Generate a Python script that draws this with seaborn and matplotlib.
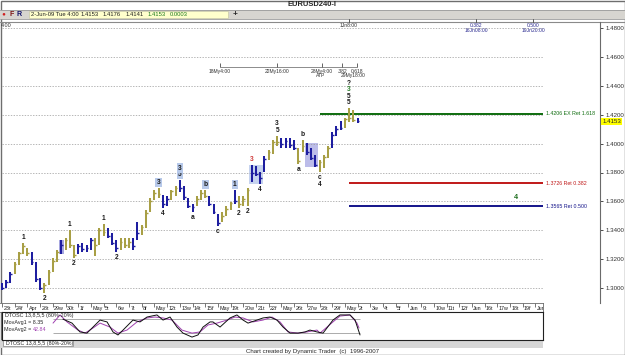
import numpy as np
import pandas as pd
import matplotlib
matplotlib.use("Agg")
import matplotlib.pyplot as plt
import matplotlib.transforms as mtrans
from matplotlib.patches import Rectangle, Circle
import seaborn as sns

sns.set_style("white")
plt.rcParams['font.family'] = ['Liberation Sans', 'DejaVu Sans']

# ---------------- data ----------------
# 8-hour bars, EURUSD, 23-Apr-09 .. 2-Jun-09
highs = [1.3035, 1.3056, 1.3111, 1.3181, 1.3250, 1.3312, 1.3278, 1.3250, 1.3181, 1.3070,
         1.3035, 1.3125, 1.3208, 1.3264, 1.3333, 1.3347, 1.3402, 1.3298, 1.3305, 1.3312,
         1.3298, 1.3347, 1.3347, 1.3416, 1.3444, 1.3416, 1.3381, 1.3333, 1.3347, 1.3347,
         1.3347, 1.3347, 1.3457, 1.3437, 1.3540, 1.3624, 1.3679, 1.3693, 1.3644, 1.3637,
         1.3679, 1.3707, 1.3748, 1.3707, 1.3624, 1.3582, 1.3637, 1.3679, 1.3679, 1.3637,
         1.3582, 1.3513, 1.3527, 1.3568, 1.3596, 1.3679, 1.3637, 1.3637, 1.3693, 1.3852,
         1.3845, 1.3803, 1.3914, 1.3956, 1.4025, 1.4053, 1.4039, 1.4039, 1.4039, 1.4025,
         1.3970, 1.4025, 1.4004, 1.3970, 1.3921, 1.3887, 1.3921, 1.3983, 1.4080, 1.4122,
         1.4156, 1.4177, 1.4246, 1.4233, 1.4176]
lows = [1.2987, 1.3001, 1.3035, 1.3098, 1.3160, 1.3236, 1.3222, 1.3160, 1.3042, 1.2987,
        1.2966, 1.3021, 1.3111, 1.3181, 1.3236, 1.3264, 1.3278, 1.3208, 1.3236, 1.3250,
        1.3250, 1.3264, 1.3222, 1.3298, 1.3361, 1.3347, 1.3298, 1.3250, 1.3264, 1.3278,
        1.3278, 1.3264, 1.3333, 1.3367, 1.3416, 1.3527, 1.3610, 1.3624, 1.3554, 1.3568,
        1.3610, 1.3637, 1.3665, 1.3610, 1.3554, 1.3527, 1.3568, 1.3610, 1.3624, 1.3568,
        1.3513, 1.3430, 1.3457, 1.3499, 1.3540, 1.3582, 1.3554, 1.3568, 1.3568, 1.3734,
        1.3776, 1.3720, 1.3803, 1.3887, 1.3928, 1.3983, 1.3970, 1.3970, 1.3970, 1.3956,
        1.3859, 1.3942, 1.3921, 1.3887, 1.3838, 1.3803, 1.3831, 1.3900, 1.3970, 1.4053,
        1.4094, 1.4108, 1.4149, 1.4149, 1.4141]
closes = [1.3000, 1.3040, 1.3100, 1.3170, 1.3240, 1.3290, 1.3240, 1.3180, 1.3060, 1.3000,
          1.3020, 1.3110, 1.3190, 1.3250, 1.3300, 1.3330, 1.3300, 1.3230, 1.3290, 1.3270,
          1.3280, 1.3330, 1.3300, 1.3400, 1.3390, 1.3360, 1.3310, 1.3280, 1.3320, 1.3300,
          1.3320, 1.3290, 1.3380, 1.3420, 1.3520, 1.3600, 1.3660, 1.3650, 1.3580, 1.3620,
          1.3670, 1.3690, 1.3690, 1.3630, 1.3570, 1.3560, 1.3620, 1.3660, 1.3640, 1.3580,
          1.3530, 1.3450, 1.3500, 1.3550, 1.3590, 1.3600, 1.3580, 1.3620, 1.3680, 1.3800,
          1.3790, 1.3760, 1.3890, 1.3940, 1.4010, 1.4010, 1.4000, 1.4020, 1.3990, 1.3970,
          1.3880, 1.3980, 1.3940, 1.3900, 1.3850, 1.3870, 1.3910, 1.3970, 1.4060, 1.4100,
          1.4110, 1.4170, 1.4180, 1.4160, 1.4153]
bar_phase = list("bbboooobbb" "oooobooobb" "bbooobbboo" "obbooooobb" "oobbbbooob"
                 "bbooobooob" "bbbooobbbb" "oobbbooobb" "booob")

price_ticks = [1.30, 1.32, 1.34, 1.36, 1.38, 1.40, 1.42, 1.44, 1.46, 1.48]

day_labels = ["23t", "24f", "Apr", "28t", "29w", "30t", "1f", "May", "5t", "6w", "7t", "8f",
              "May", "12t", "13w", "14t", "15f", "May", "19t", "20w", "21t", "22f", "May",
              "26t", "27w", "28t", "29f", "May", "2t", "3w", "4t", "5f", "Jun", "9t", "10w",
              "11t", "12f", "Jun", "16t", "17w", "18t", "19f", "Jun"]

fib_levels = [1.4206, 1.3726, 1.3565]
fib_names = ["1.4206 EX Ret 1.618", "1.3726 Ret 0.382", "1.3565 Ret 0.500"]
fib_start_day = [25.0, 27.3, 27.3]
fib_end_day = 42.6

# wave labels: (bar, text, side, stack level, colour, boxed)
wave_labels = [
    (5, "1", "up", 0, "k", False), (10, "2", "dn", 0, "k", False),
    (16, "1", "up", 0, "k", False), (17, "2", "dn", 0, "k", False),
    (24, "1", "up", 0, "k", False), (27, "2", "dn", 0, "k", False),
    (37, "3", "up", 0, "k", True), (38, "4", "dn", 0, "k", False),
    (42, "5", "up", 0, "k", True), (42, "3", "up", 1, "k", True),
    (45, "a", "dn", 0, "k", False), (48, "b", "up", 0, "k", True),
    (51, "c", "dn", 0, "k", False),
    (55, "1", "up", 0, "k", True), (56, "2", "dn", 0, "k", False), (58, "2", "dn", 0, "k", False),
    (59, "3", "up", 0, "r", False), (61, "4", "dn", 0, "k", False),
    (65, "5", "up", 0, "k", False), (65, "3", "up", 1, "k", False),
    (70, "a", "dn", 0, "k", False), (71, "b", "up", 0, "k", False),
    (75, "c", "dn", 0, "k", False), (75, "4", "dn", 1, "k", False),
    (82, "5", "up", 0, "k", False), (82, "5", "up", 1, "k", False),
    (82, "3", "up", 2, "g", False), (82, "?", "up", 3, "k", False),
]
shaded = [(14, 14, "#8a8ad6"), (59, 61, "#b3c5ea"), (72, 74, "#a6a6e2")]

proj_label_day, proj_label_price = 40.5, 1.3624

ruler_days = [17.17, 21.67, 25.17, 26.8, 27.95]
ruler_text = ["18My4:00", "22My16:00", "28My4:00", ".382", "0.618"]
ruler_price = 1.4530

top_days = [27.33, 37.33, 41.83]
top_text = ["1Jn8:00", "0.382\n16Jn08:00", "0.500\n19Jn20:00"]

osc_days = [4.80, 5.51, 6.14, 6.69, 7.17, 7.72, 8.27, 8.74, 9.13, 9.53, 10.31, 10.87, 11.42,
            12.20, 12.68, 13.23, 13.78, 14.25, 14.96, 15.43, 15.83, 16.38, 16.61, 17.17,
            17.95, 18.50, 18.98, 19.37, 20.08, 20.55, 21.10, 21.65, 22.13, 22.68, 23.31,
            23.86, 24.25, 24.80, 25.28, 26.06, 26.61, 27.40, 27.80, 28.19]
osc_vals = [81, 64, 26, 21, 47, 77, 69, 26, 13, 34, 77, 69, 90, 99, 77, 90, 47, 21, 4, 13,
            47, 69, 69, 47, 86, 99, 77, 64, 77, 86, 90, 77, 47, 21, 21, 26, 34, 26, 21, 77,
            99, 99, 77, 13]
ma_days = [4.02, 4.57, 5.12, 5.98, 6.54, 7.17, 7.72, 8.50, 9.13, 9.84, 10.63, 11.42, 12.05,
           12.68, 13.39, 14.17, 14.96, 15.59, 16.22, 16.93, 17.72, 18.35, 18.98, 19.76,
           20.55, 21.26, 21.89, 22.52, 23.31, 24.02, 24.80, 25.04, 26.06, 26.61, 27.40,
           27.95, 28.11]
ma_vals = [64, 99, 69, 34, 21, 43, 64, 47, 21, 34, 69, 86, 90, 86, 77, 34, 21, 26, 56, 64,
           77, 90, 86, 69, 77, 90, 69, 26, 21, 26, 34, 21, 69, 94, 99, 64, 43]
osc_levels = [80, 20]

# ---------------- layout helpers ----------------
W, H = 625, 355
DAY_PX = 12.7      # pixels per trading day
X0 = 2.0           # pixel of day 0
BARS_PER_DAY = 3
fig = plt.figure(figsize=(W / 100, H / 100), dpi=100)
fig.patch.set_facecolor("white")


def px_axes(x0, y0, x1, y1):
    return fig.add_axes([x0 / W, 1 - y1 / H, (x1 - x0) / W, (y1 - y0) / H])


def dlim(x0, x1):
    return ((x0 - X0) / DAY_PX, (x1 - X0) / DAY_PX)


FS = 4.4
OLIVE, BLUE = "#a89f45", "#1e1ea0"

bg = fig.add_axes([0, 0, 1, 1])
bg.set_xlim(0, W)
bg.set_ylim(H, 0)
bg.axis("off")

# window chrome
bg.add_patch(Rectangle((0.5, 0.5), W - 1, H - 1, fc="none", ec="#6e6e6e", lw=1))
bg.text(W / 2, 5, "EURUSD240-I", ha="center", va="center", fontsize=5.4, fontweight="bold")
bg.add_patch(Rectangle((0, 10), W, 8.5, fc="#d7d5d0", ec="none"))
bg.plot([0, W], [10, 10], color="#9a9a9a", lw=0.6)
bg.plot([0, W], [18.5, 18.5], color="#9a9a9a", lw=0.6)
bg.plot([0, W], [21.5, 21.5], color="#8a8a8a", lw=0.8)
bg.add_patch(Circle((4, 14.3), 1.3, fc="#d02020", ec="none"))
bg.text(12, 14.3, "F", ha="center", va="center", fontsize=5, fontweight="bold", color="#7a1010")
bg.text(19, 14.3, "R", ha="center", va="center", fontsize=5, fontweight="bold", color="#10106a")
bg.add_patch(Rectangle((29, 10.8), 199, 7.2, fc="#ffffcc", ec="#c8c8a8", lw=0.5))
info_x = [31, 81, 103, 126, 148, 170]
info_t = ["2-Jun-09 Tue 4:00", "1.4153", "1.4176", "1.4141", "1.4153", "0.0003"]
info_c = ["#202020", "#202020", "#202020", "#202020", "#1d7a1d", "#1d7a1d"]
for xx, tt, cc in zip(info_x, info_t, info_c):
    bg.text(xx, 14.4, tt, ha="left", va="center", fontsize=4.2, color=cc)
bg.text(235, 14.3, "+", ha="center", va="center", fontsize=6, fontweight="bold")
bg.text(1, 25.5, "4:00", ha="left", va="center", fontsize=3.9, color="#303030")

# bottom strips
bg.add_patch(Rectangle((0, 340), 543, 7.5, fc="#d6d6d6", ec="none"))
bg.add_patch(Rectangle((3, 340), 70, 6, fc="white", ec="#808080", lw=0.5))
bg.text(6, 343.2, "DTOSC 13,8,5,5 (80%-20%)", ha="left", va="center", fontsize=3.8)
bg.text(313, 351, "Chart created by Dynamic Trader  (c)  1996-2007", ha="center",
        va="center", fontsize=FS)

# ---------------- main price panel ----------------
ax = px_axes(0, 22, 600, 303)
ax.set_facecolor("none")
ax.set_xlim(*dlim(0, 600))
ax.set_ylim(1.48 - (303 - 28) / 1445, 1.48 + (28 - 22) / 1445)
for s in ["left", "top", "bottom"]:
    ax.spines[s].set_visible(False)
ax.spines["right"].set_color("#6a6a6a")
ax.spines["right"].set_linewidth(0.8)
ax.yaxis.tick_right()
ax.set_yticks(price_ticks)
ax.set_yticklabels([f"{t:.4f}" for t in price_ticks])
ax.tick_params(axis="y", length=2.5, width=0.6, labelsize=FS, pad=1.2, colors="#303030")
ax.set_xticks([])

grid_frac = (543 - 0) / 600
for t in price_ticks:
    ax.axhline(t, xmin=2 / 600, xmax=grid_frac, color="#9a9a9a", lw=0.5, ls=(0, (2, 2)))

df = pd.DataFrame({"high": highs, "low": lows, "close": closes, "phase": bar_phase})
df["day"] = np.arange(len(df)) / BARS_PER_DAY
df["color"] = df["phase"].map({"o": OLIVE, "b": BLUE})

for i0, i1, col in shaded:
    sub = df.iloc[i0:i1 + 1]
    ax.add_patch(Rectangle((sub["day"].min() - 0.18, sub["low"].min()),
                           sub["day"].max() - sub["day"].min() + 0.36,
                           sub["high"].max() - sub["low"].min(),
                           fc=col, ec="none", alpha=0.75, zorder=1))

ax.vlines(df["day"], df["low"], df["high"], colors=df["color"], lw=1.45, zorder=3)
ax.hlines(df["close"], df["day"], df["day"] + 0.14, colors=df["color"], lw=1.0, zorder=3)

# fib lines
fib_cols = ["#0d6b0d", "#c01818", "#14148a"]
for lvl, nm, sd, col in zip(fib_levels, fib_names, fib_start_day, fib_cols):
    ax.hlines(lvl, sd, fib_end_day, color=col, lw=1.4, zorder=2)
    ax.text(fib_end_day + 0.25, lvl, nm, ha="left", va="center", fontsize=3.8, color=col)
ax.text(proj_label_day, proj_label_price, "4", ha="center", va="center", fontsize=5.2,
        fontweight="bold", color="#1d6e1d")

# wave labels
lab_cols = {"k": "#1a1a1a", "r": "#d03a3a", "g": "#2a7d2a"}
for b, t, side, lvl, c, boxed in wave_labels:
    row = df.iloc[b]
    if side == "up":
        y, dy, va = row["high"], 1.5 + 4.6 * lvl, "bottom"
    else:
        y, dy, va = row["low"], -(1.5 + 4.6 * lvl), "top"
    kw = {}
    if boxed:
        kw["bbox"] = dict(boxstyle="square,pad=0.2", fc="#b7c9ea", ec="none")
    ax.annotate(t, (row["day"], y), xytext=(0, dy), textcoords="offset points",
                ha="center", va=va, fontsize=4.8, fontweight="bold", color=lab_cols[c],
                zorder=4, **kw)

# time ruler inside chart
ax.hlines(ruler_price, ruler_days[0], ruler_days[-1], color="#7a7a7a", lw=0.6)
ax.vlines(ruler_days, ruler_price, ruler_price + 0.0025, color="#4a4a4a", lw=0.6)
for d, t in zip(ruler_days, ruler_text):
    ax.annotate(t, (d, ruler_price), xytext=(0, -1.2), textcoords="offset points",
                ha="center", va="top", fontsize=3.6, color="#303030")
ax.annotate("ATP", (ruler_days[2], ruler_price), xytext=(-1, -4.4), textcoords="offset points",
            ha="center", va="top", fontsize=3.6, color="#303030")
ax.annotate("29My18:00", (ruler_days[4], ruler_price), xytext=(-3, -4.4),
            textcoords="offset points", ha="center", va="top", fontsize=3.6, color="#303030")

# top time ruler (x in days, y in pixels)
tr = mtrans.blended_transform_factory(ax.transData, bg.transData)
for d, t in zip(top_days, top_text):
    bg.plot([d, d], [18.8, 21.5], transform=tr, color="#404040", lw=0.6)
    col = "#303030" if "\n" not in t else "#2a2a90"
    bg.text(d, 23, t, transform=tr, ha="center", va="top", fontsize=3.6, color=col,
            linespacing=0.9)

# current price marker
last = df["close"].iloc[-1]
ytr = mtrans.blended_transform_factory(ax.transAxes, ax.transData)
ax.text(1.004, last, f"{last:.4f}", transform=ytr, ha="left", va="center", fontsize=FS,
        bbox=dict(boxstyle="square,pad=0.15", fc="#ffff00", ec="none"), clip_on=False)

# ---------------- date strip ----------------
axd = px_axes(0, 303, 543, 312)
axd.set_xlim(*dlim(0, 543))
axd.set_ylim(0, 1)
axd.set_xticks([])
axd.set_yticks([])
for s in axd.spines.values():
    s.set_color("#6a6a6a")
    s.set_linewidth(0.6)
axd.spines["left"].set_visible(False)
days = np.arange(len(day_labels))
axd.vlines(days, 0.6, 1.0, color="#404040", lw=0.5)
for d, t in zip(days, day_labels):
    axd.text(d + 0.1, 0.42, t, ha="left", va="center", fontsize=3.9, color="#202020",
             clip_on=True)

# ---------------- oscillator ----------------
axo = px_axes(2, 312, 543, 340)
axo.set_xlim(*dlim(2, 543))
axo.set_ylim(-8.6, 111.6)
axo.set_xticks([])
axo.set_yticks([])
for s in axo.spines.values():
    s.set_color("#202020")
    s.set_linewidth(0.8)
axo.hlines(osc_levels, osc_days[0] - 0.8, osc_days[-1], color="#8a8a8a", lw=0.5)
osc_df = pd.DataFrame({"day": osc_days, "val": osc_vals})
ma_df = pd.DataFrame({"day": ma_days, "val": ma_vals})
sns.lineplot(data=ma_df, x="day", y="val", ax=axo, color="#a040b0", lw=0.7, sort=False)
sns.lineplot(data=osc_df, x="day", y="val", ax=axo, color="#101010", lw=0.7, sort=False)
axo.set_xlabel("")
axo.set_ylabel("")
axo.text(0.006, 0.88, "DTOSC 13,8,5,5 (80%-20%)", transform=axo.transAxes, ha="left",
         va="center", fontsize=3.9)
axo.text(0.004, 0.62, "MovAvg1 = 8.35", transform=axo.transAxes, ha="left", va="center",
         fontsize=3.9)
axo.annotate("MovAvg2 =", (0.004, 0.36), xycoords="axes fraction", ha="left", va="center",
             fontsize=3.9)
axo.annotate("42.84", (0.004, 0.36), xycoords="axes fraction", xytext=(20.5, 0),
             textcoords="offset points", ha="left", va="center", fontsize=3.9,
             color="#a040b0")

fig.savefig("out.png", dpi=100, facecolor="white")
